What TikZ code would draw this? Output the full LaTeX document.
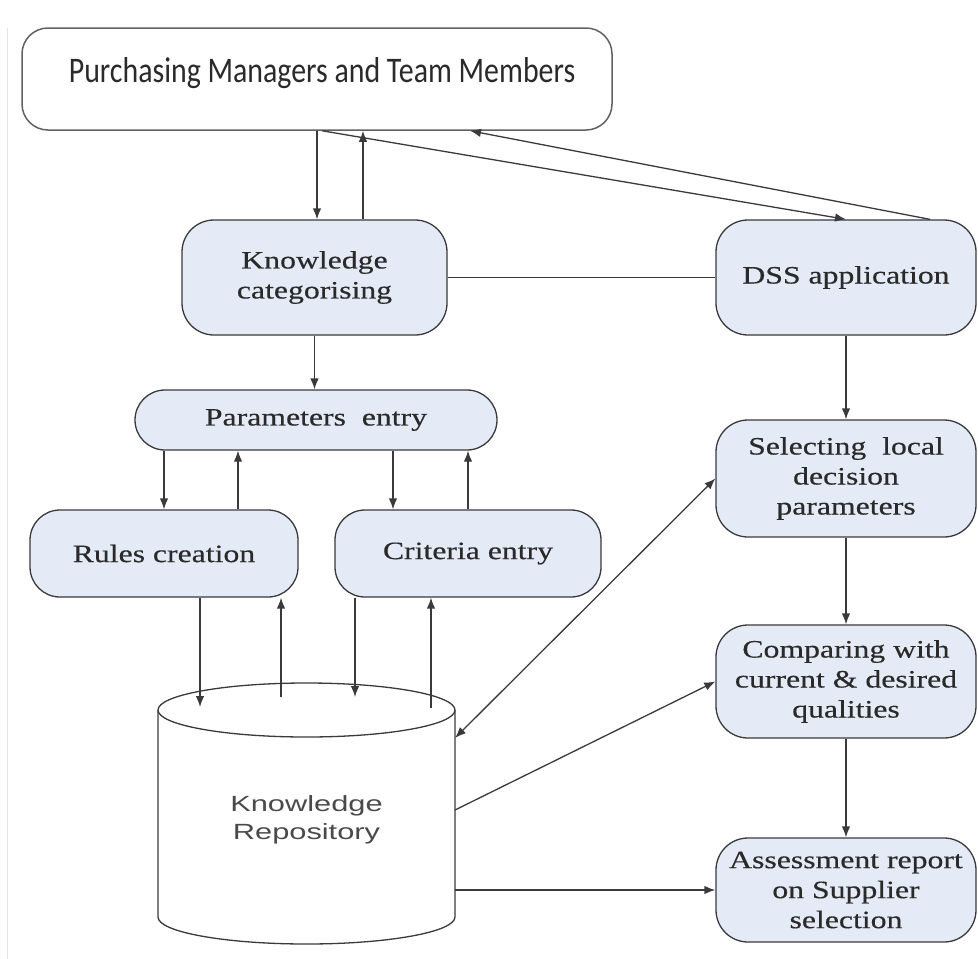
\documentclass[tikz,border=0pt]{standalone}
\usepackage{fontspec}
\usetikzlibrary{arrows.meta,calc}
\newfontfamily\serifx[FakeStretch=1.27,FakeBold=0.4]{Liberation Serif}
\newfontfamily\sansx[FakeStretch=1.4]{Liberation Sans}
\newfontfamily\calx[FakeStretch=0.83]{Carlito}
\definecolor{boxfill}{HTML}{E4EAF6}
\definecolor{boxline}{HTML}{3A3A3A}
\definecolor{txt}{HTML}{2A2A2A}
\tikzset{
  box/.style={draw=boxline, fill=boxfill, rounded corners=32pt, line width=1.3pt,
    inner sep=0pt, align=center, text=txt, font=\serifx\fontsize{25}{30}\selectfont},
  topbox/.style={draw=boxline!80, fill=white, rounded corners=26pt, line width=1.5pt, inner sep=0pt},
  conn/.style={line width=1.3pt, draw=boxline},
  arr/.style={conn, -{Latex[length=11pt,width=8.5pt]}},
  arrb/.style={conn, {Latex[length=11pt,width=8.5pt]}-{Latex[length=11pt,width=8.5pt]}},
  cyl/.style={draw=boxline, line width=1.3pt}
}
\begin{document}
\begin{tikzpicture}[x=1pt,y=-1pt]
\useasboundingbox (0,0) rectangle (978,959);
\draw[gray!20, line width=1pt] (7,28) -- (7,959);

% top box
\node[topbox, minimum width=590pt, minimum height=102pt] (pm) at (317,79) {};
\node[font=\calx\fontsize{36}{40}\selectfont, text=txt, inner sep=0pt] (pmt) at (322,73) {Purchasing Managers and Team Members};

% boxes
\node[box, minimum width=265pt, minimum height=115pt] (kc) at (314.5,277.5) {Knowledge\\categorising};
\node[box, minimum width=260pt, minimum height=115pt] (dss) at (846,277.5) {DSS application};
\node[box, rounded corners=30pt, minimum width=362pt, minimum height=60pt] (pe) at (316,420) {Parameters\ \ entry};
\node[box, rounded corners=30pt, minimum width=268pt, minimum height=87pt] (rc) at (164,553.5) {Rules creation};
\node[box, rounded corners=30pt, minimum width=266pt, minimum height=87pt] (ce) at (468,553.5) {Criteria entry};
\node[box, minimum width=260pt, minimum height=117pt] (sel) at (846,478.5) {Selecting\ \ local\\decision\\parameters};
\node[box, minimum width=260pt, minimum height=113pt] (cmp) at (846,681.5) {Comparing with\\current \& desired\\qualities};
\node[box, minimum width=260pt, minimum height=104pt] (ass) at (846,890) {Assessment report\\on Supplier\\selection};

% cylinder
\path[fill=white] (158,710) -- (158,917) arc[start angle=180,end angle=360,x radius=148.5pt,y radius=27pt] -- (455,710) -- cycle;
\draw[cyl] (158,710) -- (158,917) arc[start angle=180,end angle=360,x radius=148.5pt,y radius=27pt] -- (455,710);
\draw[cyl, fill=white] (306.5,710) ellipse [x radius=148.5pt, y radius=27pt];
\node[font=\sansx\fontsize{22}{28}\selectfont, align=center, text=txt!85, inner sep=0pt] (kr) at (306.5,820) {Knowledge\\Repository};
\coordinate (kra) at (200,707);
\coordinate (krb) at (281,697);
\coordinate (krc) at (355,697);
\coordinate (krd) at (431,708);
\coordinate (kre) at (455,738);
\coordinate (krf) at (455,810);
\coordinate (krg) at (455,890);

% top connectors
\coordinate (u1) at ([xshift=46pt]pm.south);
\coordinate (u2) at ([xshift=5pt]pm.south);
\coordinate (u3) at ([xshift=84pt]dss.north);
\coordinate (u4) at ([xshift=153pt]pm.south);
\draw[arr] (pm.south) -- (pm.south |- kc.north);
\draw[arr] (u1 |- kc.north) -- (u1);
\draw[arr] (u2) -- (dss.north);
\draw[arr] (u3) -- (u4);
\draw[conn] (kc.east) -- (dss.west);
\draw[arr] (kc.south) -- (kc.south |- pe.north);

% parameters entry connectors
\coordinate (r2) at ([xshift=74pt]rc.north);
\coordinate (c1) at ([xshift=-75pt]ce.north);
\draw[arr] (pe.south -| rc.north) -- (rc.north);
\draw[arr] (r2) -- (r2 |- pe.south);
\draw[arr] (c1 |- pe.south) -- (c1);
\draw[arr] (ce.north) -- (ce.north |- pe.south);

% to / from repository
\draw[arr] (rc.south -| kra) -- (kra);
\draw[arr] (krb) -- (rc.south -| krb);
\draw[arr] (ce.south -| krc) -- (krc);
\draw[arr] (krd) -- (ce.south -| krd);
\draw[arrb] (kre) -- (sel.west);
\draw[arr] (krf) -- (cmp.west);
\draw[arr] (krg) -- (ass.west);

% right column
\draw[arr] (dss.south) -- (sel.north);
\draw[arr] (sel.south) -- (cmp.north);
\draw[arr] (cmp.south) -- (ass.north);
\end{tikzpicture}
\end{document}
